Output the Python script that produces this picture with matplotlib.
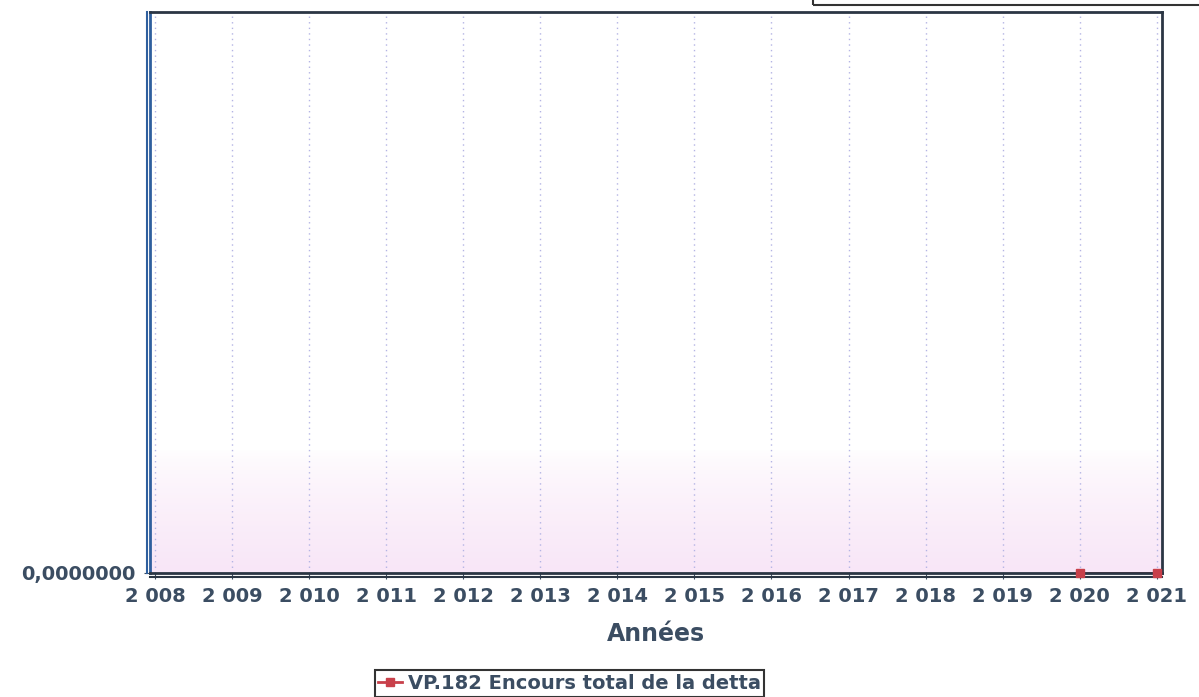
import numpy as np
import matplotlib.pyplot as plt
from matplotlib.patches import Rectangle

# data
years = list(range(2008, 2022))
year_labels = ['2 %03d' % (y - 2000) for y in years]
point_years = [2020, 2021]
point_values = [0.0, 0.0]
series_name = 'VP.182 Encours total de la detta'

text_col = '#3b4d62'
red = '#c8404a'

fig = plt.figure(figsize=(11.99, 6.97), dpi=100)
ax = fig.add_axes([0.125, 0.178, 0.844, 0.805])

# faint dotted grid at each year
for y in years:
    ax.axvline(y, color='#b4b4e4', lw=1.0, ls=(0, (1, 3)), zorder=1)

# pinkish haze near the bottom, fading upwards
grad = np.linspace(1, 0, 100).reshape(-1, 1) ** 0.7
ax.imshow(grad, extent=[2007.935, 2021.065, 0, 0.22], origin='lower', aspect='auto',
          cmap=plt.matplotlib.colors.LinearSegmentedColormap.from_list('p', ['#ffffff', '#f8e6f7']),
          zorder=0)

# the line sits under the bottom spine, only the markers show
ax.plot(point_years, point_values, color=red, lw=2, zorder=2)
ax.plot(point_years, point_values, color=red, lw=0, marker='s', ms=6,
        clip_on=False, zorder=5)
ax.plot([], [], color=red, lw=2, marker='s', ms=6, label=series_name)

ax.set_xlim(2007.935, 2021.065)
ax.set_ylim(0, 1)
ax.set_xticks(years)
ax.set_xticklabels(year_labels, fontsize=14, fontweight='bold', color=text_col)
ax.set_yticks([0])
ax.set_yticklabels(['0,0000000'], fontsize=14, fontweight='bold', color=text_col)
ax.tick_params(axis='both', length=4, color=text_col, pad=6)

for s in ax.spines.values():
    s.set_color('#2b3644')
    s.set_linewidth(2)
ax.spines['left'].set_color('#2f5f9e')

# doubled axis lines as in the scan
ax.plot([2007.9, 2007.9], [0, 1], color='#2f5f9e', lw=1.5, clip_on=False)
ax.axhline(-0.008, color='#2b3644', lw=1.5, clip_on=False)

ax.set_xlabel('Années', fontsize=17, fontweight='bold', color=text_col, labelpad=12)

leg = fig.legend(loc='lower center', bbox_to_anchor=(0.475, -0.014), fontsize=14,
                 frameon=True, fancybox=False, edgecolor='black', handlelength=1.2,
                 borderpad=0.2, handletextpad=0.3)
leg.get_frame().set_linewidth(1.5)
for t in leg.get_texts():
    t.set_color(text_col)
    t.set_fontweight('bold')

# piece of a box cut off at the top right
fig.patches.append(Rectangle((0.678, 0.993), 0.4, 0.05, transform=fig.transFigure,
                             fill=False, edgecolor='#333333', lw=1.5))

fig.savefig('out.png', dpi=100)
